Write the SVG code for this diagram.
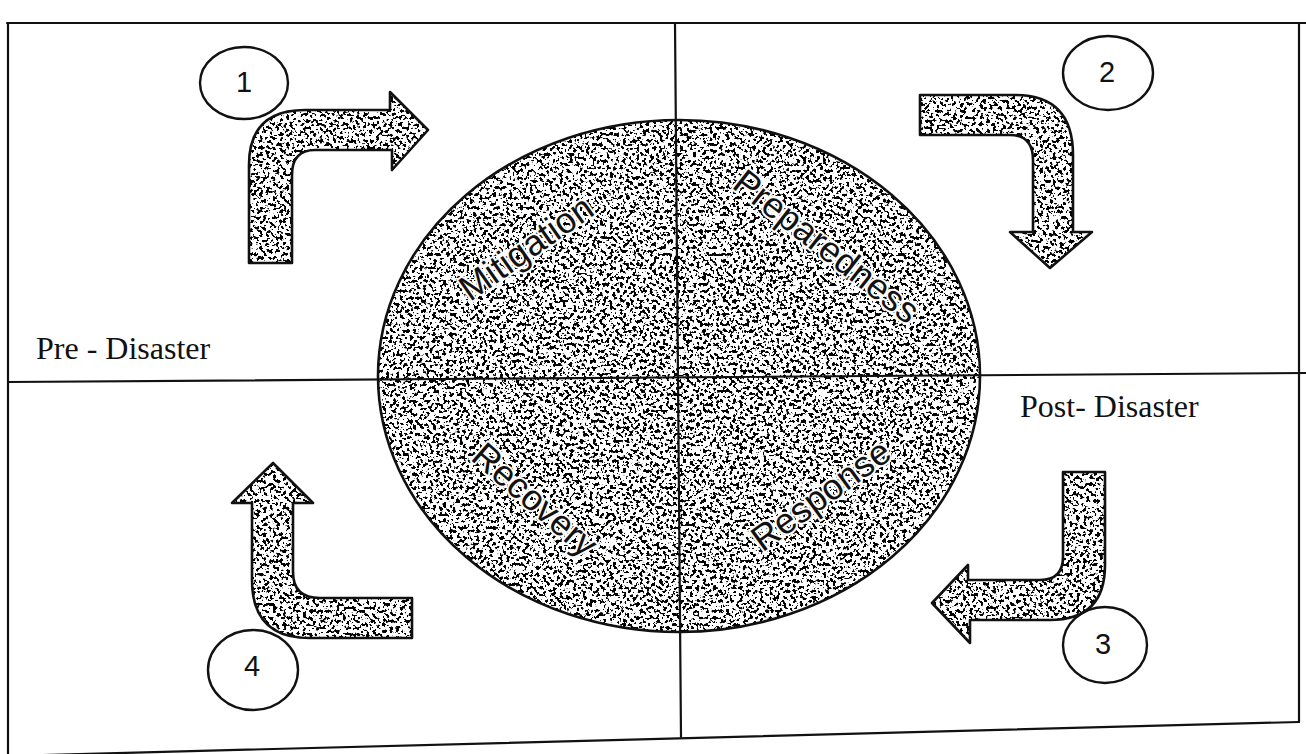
<svg xmlns="http://www.w3.org/2000/svg" width="1306" height="754" viewBox="0 0 1306 754">
  <style>
    .frame { stroke: #111; stroke-width: 2.2; fill: none; stroke-linecap: round; }
    .outline { fill: none; stroke: #111; stroke-width: 2.6; stroke-linejoin: round; }
    .stip { fill: #000; filter: url(#stipple); }
    .seg { font-family: "Liberation Sans", Arial, sans-serif; font-size: 36px; fill: #111; text-anchor: middle; stroke: #fff; stroke-width: 4px; paint-order: stroke; stroke-linejoin: round; }
    .phase { font-family: "Liberation Serif", "Times New Roman", serif; font-size: 32px; fill: #111; }
    .num { font-family: "Liberation Sans", Arial, sans-serif; font-size: 29px; fill: #111; text-anchor: middle; }
    .badge { fill: none; stroke: #111; stroke-width: 2.4; }
  </style>
  <defs>
    <filter id="stipple" x="-5%" y="-5%" width="110%" height="110%" color-interpolation-filters="sRGB">
      <feTurbulence type="fractalNoise" baseFrequency="0.3" numOctaves="2" seed="7" result="n"/>
      <feColorMatrix in="n" type="matrix" values="0 0 0 0 0  0 0 0 0 0  0 0 0 0 0  -30 0 0 0 13.8" result="d"/>
      <feComposite in="d" in2="SourceGraphic" operator="in"/>
    </filter>
    <ellipse id="disc" cx="679" cy="376" rx="301" ry="256"/>
    <path id="a1" d="M249,263 L249,165 Q249,110 305,110 L390,110 L390,92 L428,130 L392,170 L392,150 L315,150 Q292,150 292,175 L292,263 Z"/>
    <path id="a2" d="M920,95 L1015,95 Q1073,95 1073,155 L1073,232 L1092,232 L1050,268 L1010,232 L1033,232 L1033,160 Q1033,135 1010,135 L920,135 Z"/>
    <path id="a3" d="M1063,472 L1105,472 L1105,565 Q1105,620 1050,620 L970,620 L970,643 L932,603 L968,565 L968,580 L1040,580 Q1063,580 1063,557 Z"/>
    <path id="a4" d="M273,463 L313,503 L293,503 L293,572 Q293,598 320,598 L412,598 L412,638 L310,638 Q252,638 252,580 L252,503 L232,503 Z"/>
  </defs>

  <rect x="0" y="0" width="1306" height="754" fill="#fff"/>

  <g id="cycle">
    <use href="#disc" class="stip"/>
    <use href="#disc" class="outline"/>
  </g>

  <g id="frame">
    <line class="frame" x1="7" y1="23" x2="1306" y2="23"/>
    <line class="frame" x1="8" y1="23" x2="8" y2="754"/>
    <line class="frame" x1="1299" y1="23" x2="1299" y2="722"/>
    <line class="frame" x1="8" y1="756" x2="1299" y2="722"/>
    <line class="frame" x1="8" y1="382" x2="1306" y2="373"/>
    <line class="frame" x1="675" y1="23" x2="681" y2="737"/>
  </g>

  <g id="mitigation">
    <text class="seg" transform="translate(533,258) rotate(-35)">Mitigation</text>
  </g>
  <g id="preparedness">
    <text class="seg" transform="translate(819,256) rotate(38)">Preparedness</text>
  </g>
  <g id="recovery">
    <text class="seg" transform="translate(527,509) rotate(41)">Recovery</text>
  </g>
  <g id="response">
    <text class="seg" transform="translate(828,505) rotate(-36)">Response</text>
  </g>

  <g id="connectors">
    <g id="arrow1"><use href="#a1" class="stip"/><use href="#a1" class="outline"/></g>
    <g id="arrow2"><use href="#a2" class="stip"/><use href="#a2" class="outline"/></g>
    <g id="arrow3"><use href="#a3" class="stip"/><use href="#a3" class="outline"/></g>
    <g id="arrow4"><use href="#a4" class="stip"/><use href="#a4" class="outline"/></g>
  </g>

  <g id="step1">
    <ellipse class="badge" cx="244" cy="83" rx="44" ry="36"/>
    <text class="num" x="244" y="92">1</text>
  </g>
  <g id="step2">
    <ellipse class="badge" cx="1108" cy="73" rx="45" ry="37"/>
    <text class="num" x="1107" y="82">2</text>
  </g>
  <g id="step3">
    <ellipse class="badge" cx="1105" cy="645" rx="42" ry="38"/>
    <text class="num" x="1103" y="654">3</text>
  </g>
  <g id="step4">
    <ellipse class="badge" cx="253" cy="670" rx="45" ry="40"/>
    <text class="num" x="252" y="676">4</text>
  </g>

  <g id="pre-disaster">
    <text class="phase" x="36" y="359">Pre - Disaster</text>
  </g>
  <g id="post-disaster">
    <text class="phase" x="1020" y="417">Post- Disaster</text>
  </g>
</svg>
